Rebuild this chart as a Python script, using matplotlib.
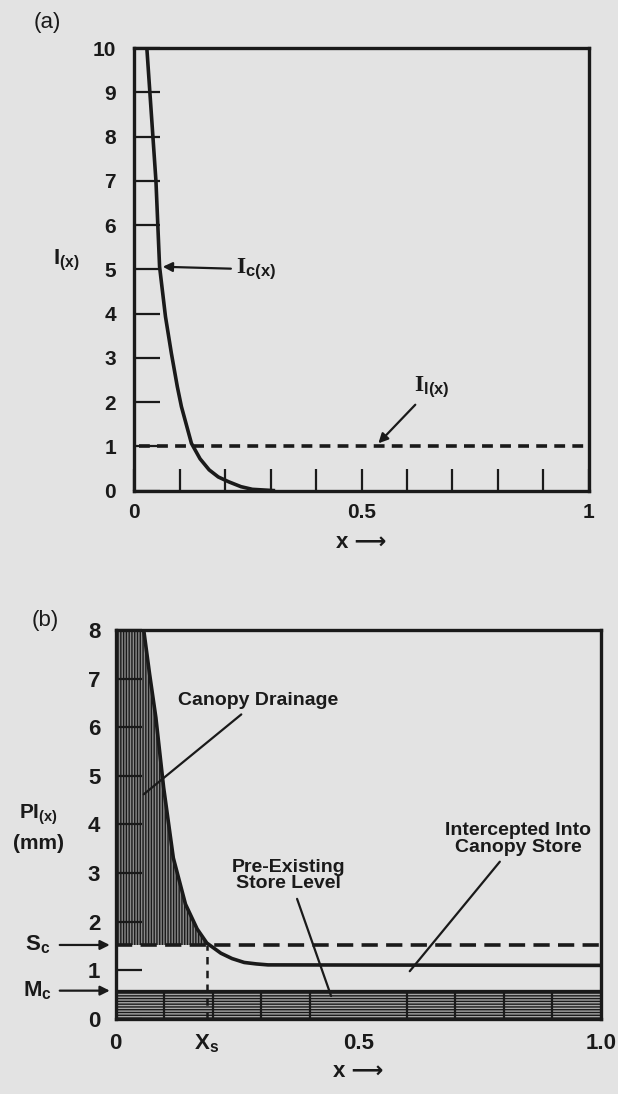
import numpy as np
import matplotlib.pyplot as plt
from matplotlib.ticker import FixedLocator, FixedFormatter

plt.rcParams['font.family'] = ['Liberation Sans', 'DejaVu Sans']
plt.rcParams['font.weight'] = 'bold'
plt.rcParams['axes.labelweight'] = 'bold'
plt.rcParams['mathtext.fontset'] = 'custom'
plt.rcParams['mathtext.rm'] = 'Liberation Serif:bold'
plt.rcParams['mathtext.sf'] = 'Liberation Sans:bold'
plt.rcParams['mathtext.it'] = 'Liberation Sans:italic:bold'
plt.rcParams['hatch.linewidth'] = 1.0

# panel (a): intensity of canopy drainage vs fraction of area
xa = [0.028, 0.040, 0.048, 0.056, 0.069, 0.082, 0.095, 0.104, 0.126, 0.145, 0.165, 0.185, 0.208, 0.235, 0.26, 0.31]
ic = [10.0, 8.2, 7.0, 5.06, 3.93, 3.1, 2.35, 1.9, 1.07, 0.72, 0.47, 0.31, 0.2, 0.09, 0.03, 0.0]
il = 1.0
xticks_a = [0, 0.1, 0.2, 0.3, 0.4, 0.5, 0.6, 0.7, 0.8, 0.9, 1.0]
xlabels_a = ['0', '', '', '', '', '0.5', '', '', '', '', '1']
yticks_a = [0, 1, 2, 3, 4, 5, 6, 7, 8, 9, 10]

# panel (b): rainfall depth vs fraction of area
xb = [0.058, 0.070, 0.083, 0.099, 0.119, 0.144, 0.168, 0.188, 0.217, 0.240, 0.265, 0.290, 0.314, 1.0]
pi = [8.0, 7.1, 6.2, 4.76, 3.31, 2.36, 1.85, 1.56, 1.35, 1.24, 1.16, 1.13, 1.11, 1.1]
sc = 1.52
mc = 0.58
xs = 0.188
yticks_b = [0, 1, 2, 3, 4, 5, 6, 7, 8]
minor_b = [0.1, 0.2, 0.3, 0.4, 0.5, 0.6, 0.7, 0.8, 0.9]

bg = '#e3e3e3'
ink = '#1a1a1a'
xlab = 'x \u27f6'
fig = plt.figure(figsize=(6.18, 10.94), dpi=100, facecolor=bg)

# ---------------- (a)
ax = fig.add_axes([0.217, 0.5515, 0.736, 0.4045])
ax.set_facecolor('none')
ax.plot(xa, ic, color=ink, lw=2.6, solid_capstyle='butt', zorder=3)
ax.axhline(il, xmin=0.01, xmax=0.99, color=ink, lw=2.6, dashes=(3, 2), zorder=3)
ax.set_xlim(0, 1)
ax.set_ylim(0, 10)
ax.xaxis.set_major_locator(FixedLocator(xticks_a))
ax.xaxis.set_major_formatter(FixedFormatter(xlabels_a))
ax.set_yticks(yticks_a)
ax.tick_params(axis='x', direction='in', length=16, width=1.6, pad=9, labelsize=15, color=ink, labelcolor=ink)
ax.tick_params(axis='y', direction='in', length=18.5, width=1.6, pad=13, labelsize=15, color=ink, labelcolor=ink)
for s in ax.spines.values():
    s.set_linewidth(2.4)
    s.set_color(ink)
ax.set_xlabel(xlab, fontsize=16, labelpad=7, color=ink)

ax.annotate(r'$\mathrm{I}_{\mathsf{c(x)}}$', xy=(0.063, 5.06), xytext=(0.225, 5.0),
            fontsize=17, va='center', ha='left', color=ink,
            arrowprops=dict(arrowstyle='-|>', color=ink, lw=1.6, mutation_scale=14,
                            shrinkA=2, shrinkB=0))
ax.annotate(r'$\mathrm{I}_{\mathsf{l(x)}}$', xy=(0.537, 1.07), xytext=(0.655, 2.05),
            fontsize=17, va='bottom', ha='center', color=ink,
            arrowprops=dict(arrowstyle='-|>', color=ink, lw=1.6, mutation_scale=14,
                            shrinkA=2, shrinkB=0))
fig.text(0.107, 0.762, r'$\mathsf{I}_{\mathsf{(x)}}$', fontsize=16, ha='center', va='center', color=ink)
fig.text(0.076, 0.979, '(a)', fontsize=16, ha='center', va='center', color=ink, weight='normal')

# ---------------- (b)
ax = fig.add_axes([0.187, 0.0687, 0.7855, 0.3554])
ax.set_facecolor('none')
ax.set_xlim(0, 1)
ax.set_ylim(0, 8)

# canopy drainage area (left of curve, above Sc)
yy = np.linspace(sc, 8, 200)
xr = np.interp(yy, pi[::-1], xb[::-1])
ax.fill_betweenx(yy, 0, xr, facecolor='#8a8a8a', edgecolor=ink, hatch='||||||', lw=0, zorder=1)
# pre-existing store band
ax.fill_between([0, 1], 0, mc, facecolor='#a8a8a8', edgecolor=ink, hatch='------', lw=0, zorder=1)
ax.axhline(mc, color=ink, lw=2.4, zorder=3)

ax.plot(xb, pi, color=ink, lw=2.6, zorder=3)
ax.axhline(sc, color=ink, lw=2.6, dashes=(4.5, 2.3), zorder=3)
ax.plot([xs, xs], [0, sc], color=ink, lw=1.8, dashes=(3, 2.5), zorder=3)

ax.set_xticks([0, xs, 0.5, 1.0])
ax.set_xticklabels(['0', r'$\mathsf{X}_{\mathsf{s}}$', '0.5', '1.0'])
ax.xaxis.set_minor_locator(FixedLocator(minor_b))
ax.set_yticks(yticks_b)
ax.tick_params(axis='x', which='major', length=0, pad=10, labelsize=16, labelcolor=ink)
ax.tick_params(axis='x', which='minor', direction='in', length=20.5, width=1.6, color=ink)
ax.tick_params(axis='y', direction='in', length=18.5, width=1.6, pad=11, labelsize=16, color=ink, labelcolor=ink)
for s in ax.spines.values():
    s.set_linewidth(2.4)
    s.set_color(ink)
ax.set_xlabel(xlab, fontsize=16, labelpad=4, color=ink)

line = dict(arrowstyle='-', color=ink, lw=1.6, shrinkA=3, shrinkB=0)
ax.annotate('Canopy Drainage', xy=(0.058, 4.62), xytext=(0.294, 6.55), fontsize=14,
            ha='center', va='center', color=ink, arrowprops=line)
ax.annotate('Pre-Existing\nStore Level', xy=(0.444, 0.47), xytext=(0.357, 2.95), fontsize=14,
            ha='center', va='center', linespacing=0.95, color=ink, arrowprops=line)
ax.annotate('Intercepted Into\nCanopy Store', xy=(0.606, 0.98), xytext=(0.83, 3.7), fontsize=14,
            ha='center', va='center', linespacing=0.95, color=ink, arrowprops=line)

tr = ax.get_yaxis_transform()
arrow = dict(arrowstyle='-|>', color=ink, lw=1.6, mutation_scale=14, shrinkA=0, shrinkB=0)
ax.annotate('', xy=(-0.012, sc), xytext=(-0.115, sc), xycoords=tr, textcoords=tr,
            arrowprops=arrow, annotation_clip=False)
ax.annotate('', xy=(-0.012, mc), xytext=(-0.115, mc), xycoords=tr, textcoords=tr,
            arrowprops=arrow, annotation_clip=False)
ax.text(-0.16, sc, r'$\mathsf{S}_{\mathsf{c}}$', transform=tr, fontsize=16, ha='center', va='center', color=ink)
ax.text(-0.16, mc, r'$\mathsf{M}_{\mathsf{c}}$', transform=tr, fontsize=16, ha='center', va='center', color=ink)

fig.text(0.062, 0.255, r'$\mathsf{PI}_{\mathsf{(x)}}$', fontsize=15, ha='center', va='center', color=ink)
fig.text(0.062, 0.229, '(mm)', fontsize=15, ha='center', va='center', color=ink)
fig.text(0.073, 0.433, '(b)', fontsize=16, ha='center', va='center', color=ink, weight='normal')

fig.savefig('out.png', dpi=100, facecolor=bg)
